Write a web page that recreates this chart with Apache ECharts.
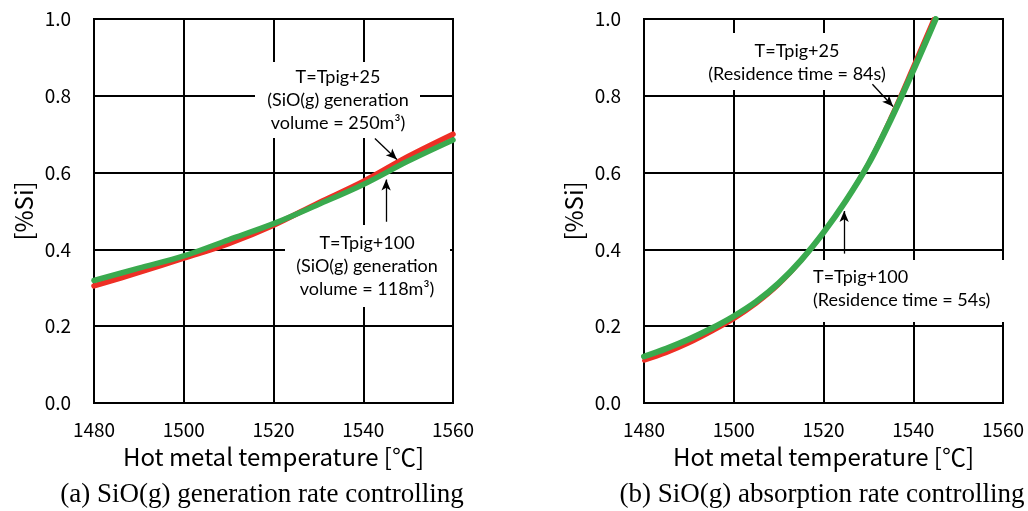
<!DOCTYPE html>
<html>
<head>
<meta charset="utf-8">
<script src="https://cdn.jsdelivr.net/npm/echarts@6/dist/echarts.min.js"></script>
<style>
  html, body { margin: 0; padding: 0; background: #fff; }
  #chart { width: 1028px; height: 511px; }
</style>
</head>
<body>
<div id="chart"></div>
<script>
// Hot metal temperature (°C) and resulting silicon content (%Si)
// (a) SiO(g) generation rate controlling
const tempA = [1480, 1490, 1500, 1510, 1520, 1530, 1540, 1550, 1560];
const siA_tpig25 = [0.305, 0.340, 0.377, 0.415, 0.463, 0.521, 0.577, 0.642, 0.700];
const siA_tpig100 = [0.319, 0.351, 0.383, 0.425, 0.467, 0.517, 0.569, 0.630, 0.685];

// (b) SiO(g) absorption rate controlling
const tempB_tpig25 = [1480, 1485, 1490, 1495, 1500, 1505, 1510, 1515, 1520, 1525, 1530, 1535, 1540, 1544.5];
const siB_tpig25 = [0.110, 0.130, 0.155, 0.185, 0.218, 0.258, 0.307, 0.369, 0.443, 0.528, 0.625, 0.745, 0.878, 1.000];
const tempB_tpig100 = [1480, 1485, 1490, 1495, 1500, 1505, 1510, 1515, 1520, 1525, 1530, 1535, 1540, 1545];
const siB_tpig100 = [0.121, 0.142, 0.166, 0.194, 0.226, 0.264, 0.312, 0.372, 0.444, 0.527, 0.622, 0.738, 0.866, 1.000];

// Axis ranges
const xRange = { min: 1480, max: 1560, step: 20 };
const yRange = { min: 0, max: 1.0, step: 0.2 };

const xTitle = 'Hot metal temperature [\u2103]';
const yTitle = '[%Si]';
const captions = ['(a) SiO(g) generation rate controlling', '(b) SiO(g) absorption rate controlling'];

const RED = '#ee2f25';
const GREEN = '#3aaa4e';
const AXIS_FONT = '"Noto Sans CJK JP", "Noto Sans", sans-serif';
const NOTE_FONT = 'Lato, "Open Sans", sans-serif';
const CAPTION_FONT = '27px "Liberation Serif", "DejaVu Serif", serif';

const pairs = (xs, ys) => xs.map((x, i) => [x, ys[i]]);

function xAxisFor(gridIndex) {
  return {
    type: 'value', gridIndex,
    min: xRange.min, max: xRange.max, interval: xRange.step,
    name: xTitle, nameLocation: 'middle', nameGap: 42,
    nameTextStyle: { color: '#000', fontSize: 24, fontFamily: AXIS_FONT },
    axisLine: { show: true, lineStyle: { color: '#000', width: 2 } },
    axisTick: { show: false },
    axisLabel: {
      color: '#000', fontSize: 19, fontFamily: AXIS_FONT, margin: 17,
      formatter: v => String(v)
    },
    splitLine: { show: true, lineStyle: { color: '#000', width: 2 } }
  };
}

function yAxisFor(gridIndex) {
  return {
    type: 'value', gridIndex,
    min: yRange.min, max: yRange.max, interval: yRange.step,
    name: yTitle, nameLocation: 'middle', nameGap: 58, nameRotate: 90,
    nameTextStyle: { color: '#000', fontSize: 24, fontFamily: AXIS_FONT },
    axisLine: { show: true, lineStyle: { color: '#000', width: 2 } },
    axisTick: { show: false },
    axisLabel: {
      color: '#000', fontSize: 19, fontFamily: AXIS_FONT, margin: 23,
      formatter: v => v.toFixed(1)
    },
    splitLine: { show: true, lineStyle: { color: '#000', width: 2 } }
  };
}

// Arrows pointing from each note to its curve, in data coordinates
function arrows(list) {
  return {
    silent: true,
    symbol: ['none', 'arrow'],
    symbolSize: [7, 11],
    label: { show: false },
    lineStyle: { color: '#000', width: 1.3, type: 'solid' },
    emphasis: { disabled: true },
    data: list.map(a => [{ coord: a[0] }, { coord: a[1] }])
  };
}

function curve(name, data, gridIndex, color, width, z, markLine) {
  const s = {
    name, type: 'line', data,
    xAxisIndex: gridIndex, yAxisIndex: gridIndex,
    smooth: 0.35, showSymbol: false, symbol: 'none',
    lineStyle: { color, width, cap: 'round' },
    z, clip: true, silent: true
  };
  if (markLine) s.markLine = markLine;
  return s;
}

// A white note box (above the grid lines, below the curves) with its text
function note(x, y, w, h, text, align, tx, ty) {
  return {
    type: 'group',
    children: [
      { type: 'rect', shape: { x, y, width: w, height: h }, style: { fill: '#fff' }, z: 1 },
      {
        type: 'text', x: tx, y: ty, z: 1,
        style: {
          text, fill: '#000', font: '18px ' + NOTE_FONT,
          align, verticalAlign: 'top', lineHeight: 23
        }
      }
    ]
  };
}

const option = {
  backgroundColor: '#fff',
  animation: false,
  grid: [
    { left: 94, top: 19, width: 359, height: 384, show: true, borderColor: '#000', borderWidth: 2, backgroundColor: 'transparent' },
    { left: 644, top: 19, width: 359, height: 384, show: true, borderColor: '#000', borderWidth: 2, backgroundColor: 'transparent' }
  ],
  xAxis: [xAxisFor(0), xAxisFor(1)],
  yAxis: [yAxisFor(0), yAxisFor(1)],
  series: [
    curve('T=Tpig+25', pairs(tempA, siA_tpig25), 0, RED, 5.5, 3,
      arrows([[[1542.6, 0.689], [1547.5, 0.634]], [[1545.1, 0.472], [1545.1, 0.582]]])),
    curve('T=Tpig+100', pairs(tempA, siA_tpig100), 0, GREEN, 5.5, 4),
    curve('T=Tpig+25', pairs(tempB_tpig25, siB_tpig25), 1, RED, 4, 3,
      arrows([[[1530.9, 0.830], [1535.5, 0.772]], [[1524.6, 0.389], [1524.6, 0.500]]])),
    curve('T=Tpig+100', pairs(tempB_tpig100, siB_tpig100), 1, GREEN, 6, 4)
  ],
  graphic: [
    note(255, 62, 165, 76, 'T=Tpig+25\n(SiO(g) generation\nvolume = 250m\u00b3)', 'center', 338, 66),
    note(285, 225, 165, 82, 'T=Tpig+100\n(SiO(g) generation\nvolume = 118m\u00b3)', 'center', 367, 232),
    note(707, 33, 180, 57, 'T=Tpig+25\n(Residence time = 84s)', 'center', 797, 40),
    note(800, 260, 206, 62, 'T=Tpig+100\n(Residence time = 54s)', 'left', 813, 266),
    {
      type: 'text', x: 262, y: 481, z: 60,
      style: { text: captions[0], fill: '#000', font: CAPTION_FONT, align: 'center', verticalAlign: 'top' }
    },
    {
      type: 'text', x: 822, y: 481, z: 60,
      style: { text: captions[1], fill: '#000', font: CAPTION_FONT, align: 'center', verticalAlign: 'top' }
    }
  ]
};

const chart = echarts.init(document.getElementById('chart'), null, { renderer: 'canvas' });
chart.setOption(option);
</script>
</body>
</html>
